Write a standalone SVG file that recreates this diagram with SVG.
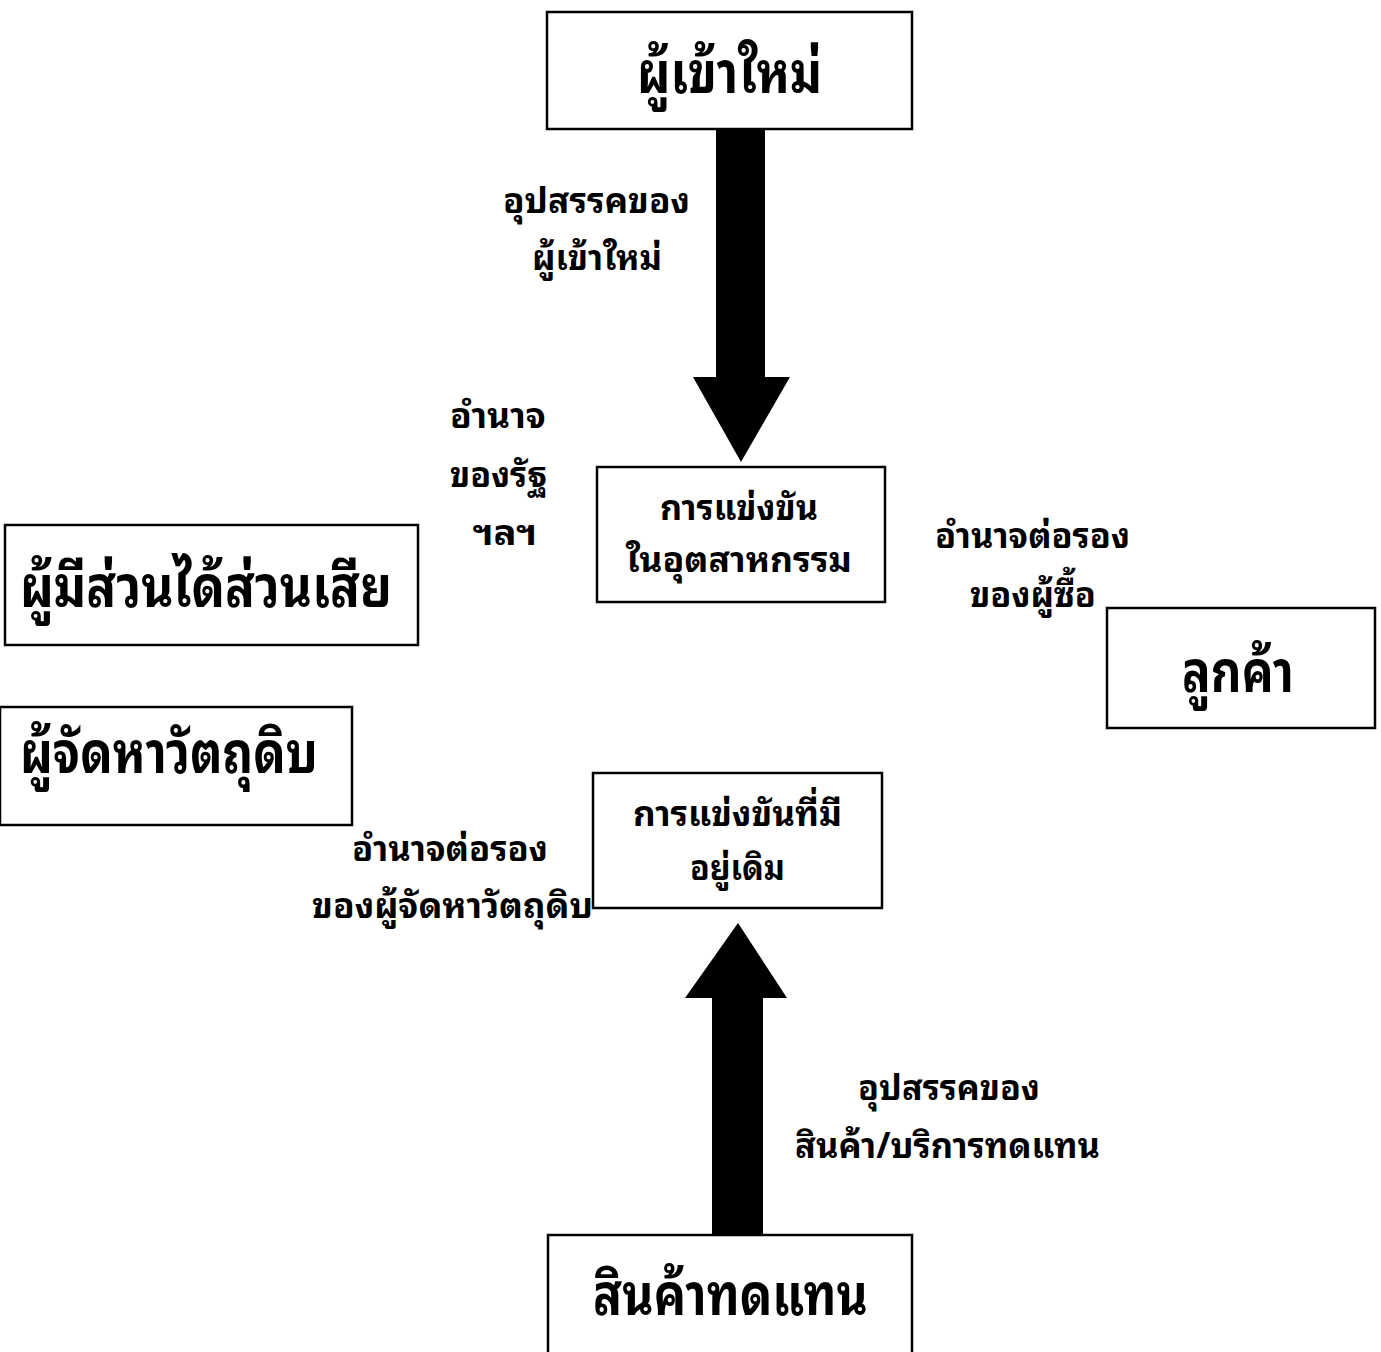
<svg xmlns="http://www.w3.org/2000/svg" width="1381" height="1352" viewBox="0 0 1381 1352">
<style>
.box{fill:#fff;stroke:#000;stroke-width:2.5}
.t{font-family:"Noto Sans Thai Looped","Norasi","Noto Serif Thai","Garuda","Loma","Noto Sans Thai","Noto Sans",sans-serif;font-weight:bold;fill:#000}
.big{font-size:58px}
.mid{font-size:35px}
.sm{font-size:35px}
.arrow{fill:#000}
</style>
<rect width="1381" height="1352" fill="#fff"/>
<g id="connectors">
<path class="arrow" d="M716,130 H765 V377 H790 L741,462 L693,377 H716 Z"/>
<path class="arrow" d="M712,1235 V998 H685 L738,923 L787,998 H763 V1235 Z"/>
</g>
<g id="node-new-entrants">
<rect class="box" x="547" y="12" width="365" height="117"/>
<text class="t big" x="637" y="93" textLength="185" lengthAdjust="spacingAndGlyphs">ผู้เข้าใหม่</text>
</g>
<g id="node-industry">
<rect class="box" x="597" y="467" width="288" height="135"/>
<text class="t mid" x="660" y="520" textLength="158" lengthAdjust="spacingAndGlyphs">การแข่งขัน</text>
<text class="t mid" x="626" y="572" textLength="226" lengthAdjust="spacingAndGlyphs">ในอุตสาหกรรม</text>
</g>
<g id="node-stakeholders">
<rect class="box" x="5" y="525" width="413" height="120"/>
<text class="t big" x="20" y="607" textLength="372" lengthAdjust="spacingAndGlyphs">ผู้มีส่วนได้ส่วนเสีย</text>
</g>
<g id="node-suppliers">
<rect class="box" x="0" y="707" width="352" height="118"/>
<text class="t big" x="20" y="773" textLength="298" lengthAdjust="spacingAndGlyphs">ผู้จัดหาวัตถุดิบ</text>
</g>
<g id="node-customers">
<rect class="box" x="1107" y="608" width="268" height="120"/>
<text class="t big" x="1182" y="692" textLength="112" lengthAdjust="spacingAndGlyphs">ลูกค้า</text>
</g>
<g id="node-existing">
<rect class="box" x="593" y="773" width="289" height="135"/>
<text class="t mid" x="633" y="826" textLength="209" lengthAdjust="spacingAndGlyphs">การแข่งขันที่มี</text>
<text class="t mid" x="690" y="880" textLength="95" lengthAdjust="spacingAndGlyphs">อยู่เดิม</text>
</g>
<g id="node-substitutes">
<rect class="box" x="548" y="1235" width="364" height="130"/>
<text class="t big" x="593" y="1315" textLength="275" lengthAdjust="spacingAndGlyphs">สินค้าทดแทน</text>
</g>
<g id="labels">
<text class="t sm" x="503" y="213" textLength="187" lengthAdjust="spacingAndGlyphs">อุปสรรคของ</text>
<text class="t sm" x="532" y="270" textLength="130" lengthAdjust="spacingAndGlyphs">ผู้เข้าใหม่</text>
<text class="t sm" x="450" y="428" textLength="96" lengthAdjust="spacingAndGlyphs">อำนาจ</text>
<text class="t sm" x="450" y="487" textLength="97" lengthAdjust="spacingAndGlyphs">ของรัฐ</text>
<text class="t sm" x="473" y="545" textLength="64" lengthAdjust="spacingAndGlyphs">ฯลฯ</text>
<text class="t sm" x="935" y="548" textLength="195" lengthAdjust="spacingAndGlyphs">อำนาจต่อรอง</text>
<text class="t sm" x="970" y="607" textLength="126" lengthAdjust="spacingAndGlyphs">ของผู้ซื้อ</text>
<text class="t sm" x="352" y="861" textLength="196" lengthAdjust="spacingAndGlyphs">อำนาจต่อรอง</text>
<text class="t sm" x="312" y="918" textLength="281" lengthAdjust="spacingAndGlyphs">ของผู้จัดหาวัตถุดิบ</text>
<text class="t sm" x="858" y="1100" textLength="182" lengthAdjust="spacingAndGlyphs">อุปสรรคของ</text>
<text class="t sm" x="795" y="1158" textLength="305" lengthAdjust="spacingAndGlyphs">สินค้า/บริการทดแทน</text>
</g>
</svg>
